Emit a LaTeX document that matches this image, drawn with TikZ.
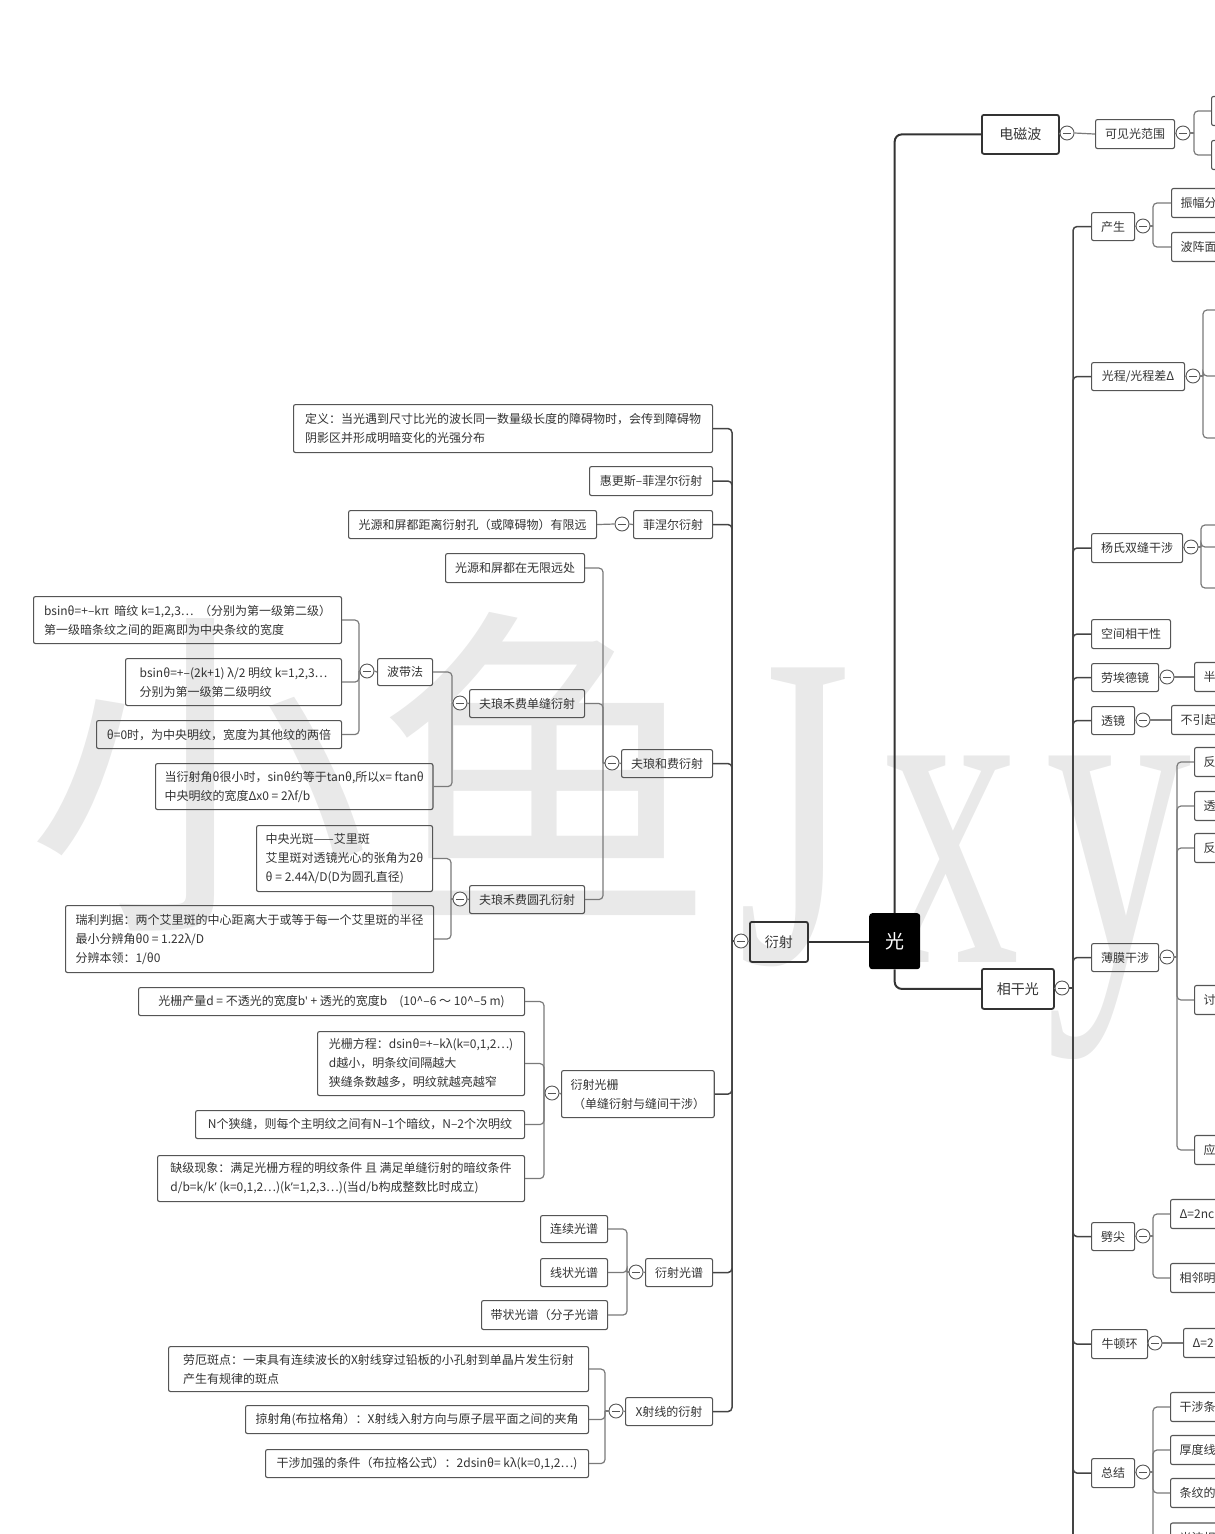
\documentclass[tikz,border=0pt]{standalone}
\usepackage{fontspec}
\setmainfont{Noto Sans CJK SC}
\newfontfamily\wmserif{Liberation Serif}
\newfontfamily\latf{Noto Sans}
\usetikzlibrary{calc}
\definecolor{txt}{HTML}{333333}
\definecolor{bd}{HTML}{555555}
\definecolor{ln}{HTML}{7A7A7A}
\definecolor{lnd}{HTML}{444444}
\definecolor{wmc}{HTML}{E9E9E9}
\newcommand\myrq{{\latf ’}}
\newcommand\mysq{{\latf\char"0027}}
\tikzset{
  box/.style={draw=bd, line width=1.1pt, rounded corners=2pt, text=txt,
    font=\fontsize{12pt}{19pt}\selectfont, inner xsep=9pt, inner ysep=3pt, align=left},
  topic/.style={draw=txt, line width=1.8pt, font=\fontsize{14pt}{18pt}\selectfont},
  root/.style={fill=black, rounded corners=3pt, text=white,
    font=\fontsize{19pt}{22pt}\selectfont, minimum width=51pt, minimum height=56pt, inner sep=0pt},
  tog/.style={circle, draw=bd, line width=0.9pt, fill=white, minimum size=14pt, inner sep=0pt,
    path picture={\draw[bd, line width=0.9pt]
      ([xshift=-4pt]path picture bounding box.center) -- ([xshift=4pt]path picture bounding box.center);}},
  br/.style={draw=ln, line width=1.2pt, rounded corners=4pt},
  brone/.style={draw=lnd, line width=1.5pt, rounded corners=4pt},
  mainbr/.style={draw=txt, line width=2pt, rounded corners=7pt},
  ebox/.style={box, text width=70pt, minimum height=29pt, anchor=west},
  wmark/.style={text=wmc, inner sep=0pt},
}
\newcommand\bx[7][]{\node[box,anchor=north west,minimum width={(#5-#3)*1pt},minimum height={(#6-#4)*1pt},#1] (#2) at (#3,#4) {#7};}
\begin{document}
\begin{tikzpicture}[x={(1pt,0)}, y={(0,-1pt)}]
\useasboundingbox (0,0) rectangle (1215,1534);
\clip (0,0) rectangle (1215,1534);
% watermark
\node[wmark, font=\fontsize{345pt}{345pt}\selectfont] (wmcjk) at (372,772) {小鱼};
\node[wmark, anchor=base west, font=\wmserif\fontsize{450pt}{450pt}\selectfont] (wmJ) at (737,962) {\scalebox{0.65}[1]{J}};
\node[wmark, anchor=base west, font=\wmserif\fontsize{450pt}{450pt}\selectfont] (wmx) at (880,962) {\scalebox{0.62}[1]{x}};
\node[wmark, anchor=base west, font=\wmserif\fontsize{450pt}{450pt}\selectfont] (wmy) at (1045,962) {\scalebox{0.65}[1]{y}};

% root and topics
\node[root, anchor=north west] (guang) at (869,913) {光};
\bx[topic]{ys}{749}{921}{807}{961}{衍射}
\bx[topic]{dcb}{981}{114}{1058}{153}{电磁波}
\bx[topic]{xgg}{981}{968}{1053}{1008}{相干光}
\draw[mainbr] (guang.north) |- (dcb.west);
\draw[mainbr] (guang.south) |- (xgg.west);
\draw[mainbr] (ys.east) -- (ys.east -| guang.west);

% ---------- left: 衍射 ----------
\bx{def}{293}{404}{712}{452}{定义：当光遇到尺寸比光的波长同一数量级长度的障碍物时，会传到障碍物\\阴影区并形成明暗变化的光强分布}
\bx{hgs}{589}{466}{712}{495}{惠更斯–菲涅尔衍射}
\bx{fne}{633}{510}{712}{538}{菲涅尔衍射}
\bx{fnea}{348}{510}{596}{538}{光源和屏都距离衍射孔（或障碍物）有限远}
\bx{flh}{621}{749}{712}{777}{夫琅和费衍射}
\bx{wxy}{445}{553}{584}{582}{光源和屏都在无限远处}
\bx{dfy}{469}{689}{584}{717}{夫琅禾费单缝衍射}
\bx{ykf}{469}{885}{584}{913}{夫琅禾费圆孔衍射}
\bx{bdf}{377}{658}{432}{685}{波带法}
\bx{bsa}{33}{596}{341}{643}{bsinθ=+–kπ\ \ 暗纹 k=1,2,3…\ \ （分别为第一级第二级）\\第一级暗条纹之间的距离即为中央条纹的宽度}
\bx{bsb}{125}{658}{341}{705}{bsinθ=+–(2k+1) λ/2 明纹 k=1,2,3…\\分别为第一级第二级明纹}
\bx{tho}{96}{720}{341}{748}{θ=0时，为中央明纹，宽度为其他纹的两倍}
\bx{dys}{155}{763}{426}{809}{当衍射角θ很小时，sinθ约等于tanθ,所以x= ftanθ\\中央明纹的宽度Δx0 = 2λf/b}
\bx{zyg}{256}{825}{432}{891}{中央光斑——艾里斑\\艾里斑对透镜光心的张角为2θ\\θ = 2.44λ/D(D为圆孔直径)}
\bx{rlp}{65}{905}{433}{972}{瑞利判据：两个艾里斑的中心距离大于或等于每一个艾里斑的半径\\最小分辨角θ0 = 1.22λ/D\\分辨本领：1/θ0}
\bx{gs}{561}{1070}{712}{1117}{衍射光栅\\\ （单缝衍射与缝间干涉）}
\bx{gscl}{138}{987}{524}{1015}{光栅产量d = 不透光的宽度b\mysq{} + 透光的宽度b\quad(10\textasciicircum–6 ～ 10\textasciicircum–5 m)}
\bx{gsfc}{317}{1031}{524}{1095}{光栅方程：dsinθ=+–kλ(k=0,1,2…)\\d越小，明条纹间隔越大\\狭缝条数越多，明纹就越亮越窄}
\bx{nxf}{195}{1110}{524}{1138}{N个狭缝，则每个主明纹之间有N–1个暗纹，N–2个次明纹}
\bx{qj}{157}{1155}{524}{1201}{缺级现象：满足光栅方程的明纹条件 且 满足单缝衍射的暗纹条件\\d/b=k/k\myrq{} (k=0,1,2…)(k\myrq{}=1,2,3…)(当d/b构成整数比时成立)}
\bx{yspu}{645}{1258}{712}{1286}{衍射光谱}
\bx{lxgp}{540}{1215}{607}{1242}{连续光谱}
\bx{xzgp}{540}{1258}{607}{1286}{线状光谱}
\bx{dzgp}{481}{1300}{607}{1329}{带状光谱（分子光谱}
\bx{xsx}{625}{1397}{712}{1425}{X射线的衍射}
\bx{lebd}{168}{1346}{588}{1391}{劳厄斑点：一束具有连续波长的X射线穿过铅板的小孔射到单晶片发生衍射\\产生有规律的斑点}
\bx{lsj}{245}{1405}{588}{1433}{掠射角(布拉格角）：X射线入射方向与原子层平面之间的夹角}
\bx{gsjq}{265}{1449}{588}{1477}{干涉加强的条件（布拉格公式）：2dsinθ= kλ(k=0,1,2…)}

\node[tog] (cys) at (741,941) {};
\node[tog] (cfne) at (622,524) {};
\node[tog] (cflh) at (612,763) {};
\node[tog] (cdfy) at (460,703) {};
\node[tog] (cbdf) at (367,671) {};
\node[tog] (cykf) at (460,899) {};
\node[tog] (cgs) at (552,1093) {};
\node[tog] (cyspu) at (636,1272) {};
\node[tog] (cxsx) at (616,1411) {};

\coordinate (jys) at (732,941);
\coordinate (jflh) at (603,763);
\coordinate (jdfy) at (452,703);
\coordinate (jbdf) at (359,671);
\coordinate (jykf) at (451,899);
\coordinate (jgs) at (544,1093);
\coordinate (jyspu) at (627,1272);
\coordinate (jxsx) at (605,1411);

\draw[br] (ys.west) -- (cys.east);
\draw[brone] (cys.west) -- (jys);
\foreach \c in {def,hgs,fne,flh,gs,yspu,xsx} \draw[brone] (jys) |- (\c.east);
\draw[br] (fne.west) -- (cfne.east);
\draw[br] (cfne.west) -- (fnea.east);
\draw[br] (flh.west) -- (cflh.east);
\draw[br] (cflh.west) -- (jflh);
\foreach \c in {wxy,dfy,ykf} \draw[br] (jflh) |- (\c.east);
\draw[br] (dfy.west) -- (cdfy.east);
\draw[br] (cdfy.west) -- (jdfy);
\foreach \c in {bdf,dys} \draw[br] (jdfy) |- (\c.east);
\draw[br] (bdf.west) -- (cbdf.east);
\draw[br] (cbdf.west) -- (jbdf);
\foreach \c in {bsa,bsb,tho} \draw[br] (jbdf) |- (\c.east);
\draw[br] (ykf.west) -- (cykf.east);
\draw[br] (cykf.west) -- (jykf);
\foreach \c in {zyg,rlp} \draw[br] (jykf) |- (\c.east);
\draw[br] (gs.west) -- (cgs.east);
\draw[br] (cgs.west) -- (jgs);
\foreach \c in {gscl,gsfc,nxf,qj} \draw[br] (jgs) |- (\c.east);
\draw[br] (yspu.west) -- (cyspu.east);
\draw[br] (cyspu.west) -- (jyspu);
\foreach \c in {lxgp,xzgp,dzgp} \draw[br] (jyspu) |- (\c.east);
\draw[br] (xsx.west) -- (cxsx.east);
\draw[br] (cxsx.west) -- (jxsx);
\foreach \c in {lebd,lsj,gsjq} \draw[br] (jxsx) |- (\c.east);

% ---------- right: 电磁波 / 相干光 ----------
\bx{kjg}{1095}{119}{1174}{148}{可见光范围}
\bx{cs}{1091}{212}{1134}{240}{产生}
\bx{gc}{1091}{362}{1184}{390}{光程/光程差Δ}
\bx{yss}{1091}{533}{1182}{562}{杨氏双缝干涉}
\bx{kj}{1091}{619}{1170}{648}{空间相干性}
\bx{lad}{1091}{663}{1158}{691}{劳埃德镜}
\bx{tj}{1091}{706}{1134}{734}{透镜}
\bx{bm}{1091}{943}{1158}{971}{薄膜干涉}
\bx{pj}{1091}{1222}{1134}{1250}{劈尖}
\bx{ndh}{1091}{1329}{1147}{1358}{牛顿环}
\bx{zj}{1091}{1458}{1134}{1487}{总结}

\node[ebox] (vra) at (1211,111) {};
\node[ebox] (vrb) at (1211,155) {};
\node[ebox] (zf) at (1171,203) {振幅分};
\node[ebox] (bz) at (1171,247) {波阵面};
\node[ebox] (ban) at (1194,677) {半};
\node[ebox] (byq) at (1171,720) {不引起};
\node[ebox] (fa) at (1194,762) {反};
\node[ebox] (ta) at (1194,806) {透};
\node[ebox] (fb) at (1194,848) {反};
\node[ebox] (tao) at (1194,1000) {讨};
\node[ebox] (ying) at (1194,1150) {应};
\node[ebox] (dnc) at (1170,1214) {Δ=2nc};
\node[ebox] (xlm) at (1170,1278) {相邻明};
\node[ebox] (dtw) at (1183,1343) {Δ=2};
\node[ebox] (gsz) at (1170,1407) {干涉条};
\node[ebox] (hdx) at (1170,1450) {厚度线};
\node[ebox] (twd) at (1170,1493) {条纹的};
\node[ebox, minimum height=30pt] (gbx) at (1170,1538) {光波相};

\node[tog] (cdcb) at (1067,133) {};
\node[tog] (ckjg) at (1183,133) {};
\node[tog] (cxgg) at (1062,988) {};
\node[tog] (ccs) at (1143,226) {};
\node[tog] (cgc) at (1193,376) {};
\node[tog] (cyss) at (1191,547) {};
\node[tog] (clad) at (1167,677) {};
\node[tog] (ctj) at (1143,720) {};
\node[tog] (cbm) at (1167,957) {};
\node[tog] (cpj) at (1143,1236) {};
\node[tog] (cndh) at (1155,1343) {};
\node[tog] (czj) at (1143,1472) {};

\coordinate (jkjg) at (1194,133);
\coordinate (jxgg) at (1073,988);
\coordinate (xggend) at (1073,1550);
\coordinate (jcs) at (1153,226);
\coordinate (jgc) at (1203,376);
\coordinate (gca) at (1222,310);
\coordinate (gcb) at (1222,376);
\coordinate (gcc) at (1222,438);
\coordinate (jyss) at (1201,547);
\coordinate (ysa) at (1222,525);
\coordinate (ysb) at (1222,547);
\coordinate (ysc) at (1222,588);
\coordinate (jbm) at (1177,957);
\coordinate (jpj) at (1153,1236);
\coordinate (jzj) at (1153,1472);

\draw[br] (dcb.east) -- (cdcb.west);
\draw[br] (cdcb.east) -- (kjg.west);
\draw[br] (kjg.east) -- (ckjg.west);
\draw[br] (ckjg.east) -- (jkjg);
\foreach \c in {vra,vrb} \draw[br] (jkjg) |- (\c.west);

\draw[br] (xgg.east) -- (cxgg.west);
\draw[brone] (cxgg.east) -- (jxgg);
\draw[brone] (jxgg) -- (xggend);
\foreach \c in {cs,gc,yss,kj,lad,tj,bm,pj,ndh,zj} \draw[brone] (jxgg) |- (\c.west);

\draw[br] (cs.east) -- (ccs.west);
\draw[br] (ccs.east) -- (jcs);
\foreach \c in {zf,bz} \draw[br] (jcs) |- (\c.west);
\draw[br] (gc.east) -- (cgc.west);
\draw[br] (cgc.east) -- (jgc);
\foreach \c in {gca,gcb,gcc} \draw[br] (jgc) |- (\c);
\draw[br] (yss.east) -- (cyss.west);
\draw[br] (cyss.east) -- (jyss);
\foreach \c in {ysa,ysb,ysc} \draw[br] (jyss) |- (\c);
\draw[br] (lad.east) -- (clad.west);
\draw[br] (clad.east) -- (ban.west);
\draw[br] (tj.east) -- (ctj.west);
\draw[br] (ctj.east) -- (byq.west);
\draw[br] (bm.east) -- (cbm.west);
\draw[br] (cbm.east) -- (jbm);
\foreach \c in {fa,ta,fb,tao,ying} \draw[br] (jbm) |- (\c.west);
\draw[br] (pj.east) -- (cpj.west);
\draw[br] (cpj.east) -- (jpj);
\foreach \c in {dnc,xlm} \draw[br] (jpj) |- (\c.west);
\draw[br] (ndh.east) -- (cndh.west);
\draw[br] (cndh.east) -- (dtw.west);
\draw[br] (zj.east) -- (czj.west);
\draw[br] (czj.east) -- (jzj);
\foreach \c in {gsz,hdx,twd,gbx} \draw[br] (jzj) |- (\c.west);
\end{tikzpicture}
\end{document}
